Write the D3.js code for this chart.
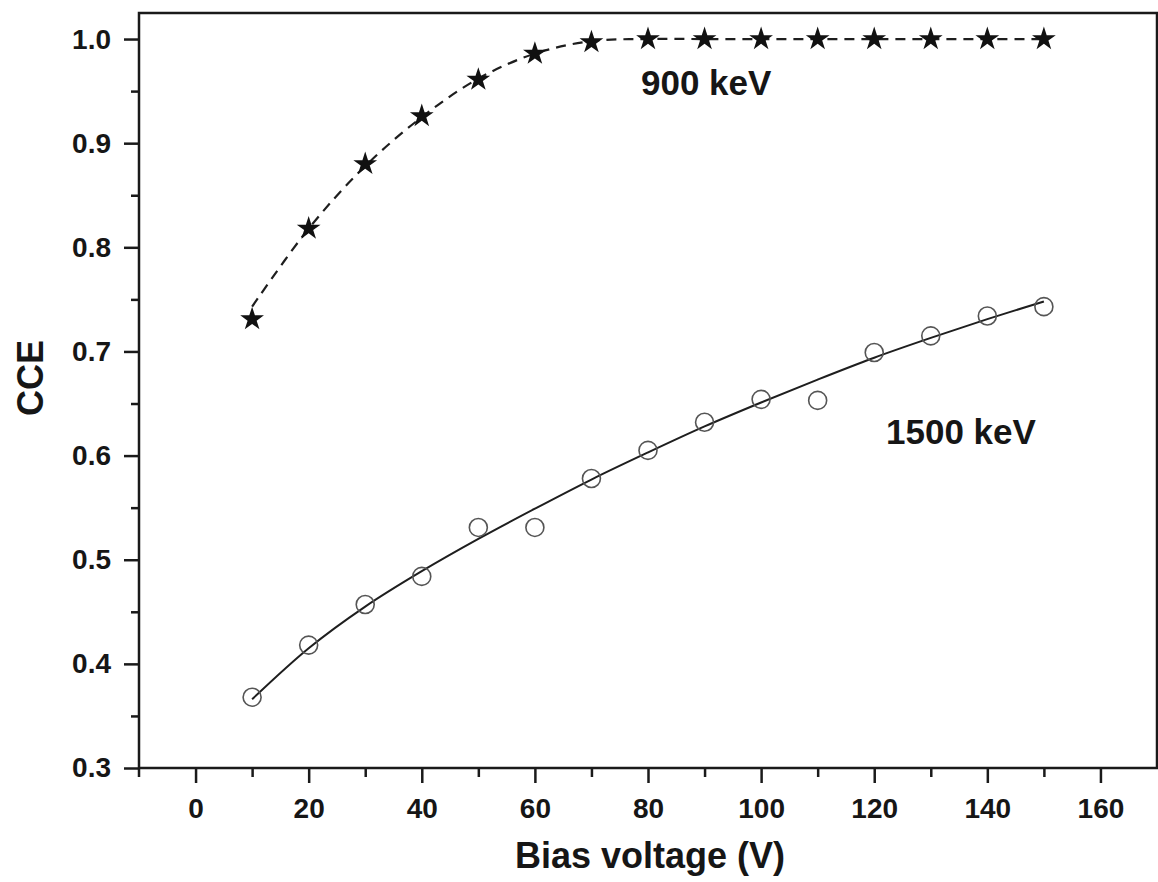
<!DOCTYPE html>
<html>
<head>
<meta charset="utf-8">
<script src="https://cdn.jsdelivr.net/npm/d3@7"></script>
<style>
  html, body { margin: 0; padding: 0; background: #fff; }
  svg { display: block; }
  text { font-family: "Liberation Sans", Arial, Helvetica, sans-serif; font-weight: bold; fill: #161616; }
</style>
</head>
<body>
<svg id="chart" width="1158" height="882"></svg>
<script>
// Bias voltage (V)
const voltage = [10, 20, 30, 40, 50, 60, 70, 80, 90, 100, 110, 120, 130, 140, 150];

// 900 keV: measured CCE and fitted curve
const cce900 = [0.731, 0.818, 0.880, 0.926, 0.961, 0.986, 0.997, 1.000, 1.000, 1.000, 1.000, 1.000, 1.000, 1.000, 1.000];
const fit900 = [0.743, 0.818, 0.878, 0.925, 0.962, 0.986, 0.998, 1.000, 1.000, 1.000, 1.000, 1.000, 1.000, 1.000, 1.000];

// 1500 keV: measured CCE and fitted curve
const cce1500 = [0.368, 0.418, 0.457, 0.484, 0.531, 0.531, 0.578, 0.605, 0.632, 0.654, 0.653, 0.699, 0.715, 0.734, 0.743];
const fit1500 = [0.366, 0.415, 0.455, 0.489, 0.520, 0.549, 0.577, 0.603, 0.628, 0.651, 0.673, 0.694, 0.713, 0.731, 0.748];

const xTicks = [0, 20, 40, 60, 80, 100, 120, 140, 160];
const xMinorTicks = [10, 30, 50, 70, 90, 110, 130, 150];
const yTicks = [0.3, 0.4, 0.5, 0.6, 0.7, 0.8, 0.9, 1.0];
const yMinorTicks = [0.35, 0.45, 0.55, 0.65, 0.75, 0.85, 0.95];

const svg = d3.select("#chart");
const plot = { left: 139, right: 1157, top: 13, bottom: 768 };

const x = d3.scaleLinear().domain([-10, 170]).range([plot.left, plot.right]);
const y = d3.scaleLinear().domain([0.3, 1.025]).range([plot.bottom, plot.top]);

// Minor ticks
svg.append("g")
  .attr("transform", `translate(0,${plot.bottom})`)
  .call(d3.axisBottom(x).tickValues(xMinorTicks).tickSize(9).tickSizeOuter(0).tickFormat(""))
  .call(g => g.select(".domain").remove())
  .call(g => g.selectAll("line").attr("stroke", "#1a1a1a").attr("stroke-width", 2.5));

svg.append("g")
  .attr("transform", `translate(${plot.left},0)`)
  .call(d3.axisLeft(y).tickValues(yMinorTicks).tickSize(8).tickSizeOuter(0).tickFormat(""))
  .call(g => g.select(".domain").remove())
  .call(g => g.selectAll("line").attr("stroke", "#1a1a1a").attr("stroke-width", 2.5));

// Major ticks and labels
svg.append("g")
  .attr("transform", `translate(0,${plot.bottom})`)
  .call(d3.axisBottom(x).tickValues(xTicks).tickSize(15).tickSizeOuter(0).tickPadding(15).tickFormat(d3.format("d")))
  .call(g => g.select(".domain").remove())
  .call(g => g.selectAll("line").attr("stroke", "#1a1a1a").attr("stroke-width", 2.5))
  .call(g => g.selectAll("text").attr("font-size", 28).attr("fill", "#161616")
    .attr("font-family", "Liberation Sans, Arial, sans-serif").attr("font-weight", "bold"));

svg.append("g")
  .attr("transform", `translate(${plot.left},0)`)
  .call(d3.axisLeft(y).tickValues(yTicks).tickSize(15).tickSizeOuter(0).tickPadding(13).tickFormat(d3.format(".1f")))
  .call(g => g.select(".domain").remove())
  .call(g => g.selectAll("line").attr("stroke", "#1a1a1a").attr("stroke-width", 2.5))
  .call(g => g.selectAll("text").attr("font-size", 28).attr("fill", "#161616")
    .attr("font-family", "Liberation Sans, Arial, sans-serif").attr("font-weight", "bold"));

// Frame
svg.append("rect")
  .attr("x", plot.left).attr("y", plot.top)
  .attr("width", plot.right - plot.left).attr("height", plot.bottom - plot.top)
  .attr("fill", "none").attr("stroke", "#1a1a1a").attr("stroke-width", 2.5);
// left axis runs a little below the bottom axis
svg.append("line")
  .attr("x1", plot.left).attr("x2", plot.left)
  .attr("y1", plot.bottom).attr("y2", plot.bottom + 9)
  .attr("stroke", "#1a1a1a").attr("stroke-width", 2.5);

const line = d3.line().curve(d3.curveCatmullRom.alpha(0.5));

// 1500 keV fitted curve (solid)
svg.append("path")
  .attr("d", line(voltage.map((v, i) => [x(v), y(fit1500[i])])))
  .attr("fill", "none").attr("stroke", "#1e1e1e").attr("stroke-width", 2);

// 1500 keV points (open circles)
svg.append("g").selectAll("circle")
  .data(voltage.map((v, i) => ({ v, c: cce1500[i] })))
  .join("circle")
  .attr("cx", d => x(d.v)).attr("cy", d => y(d.c)).attr("r", 9)
  .attr("fill", "none").attr("stroke", "#555").attr("stroke-width", 1.6);

// 900 keV fitted curve (dashed)
svg.append("path")
  .attr("d", line(voltage.map((v, i) => [x(v), y(fit900[i])])))
  .attr("fill", "none").attr("stroke", "#1e1e1e").attr("stroke-width", 2.2)
  .attr("stroke-dasharray", "10,7");

// 900 keV points (filled stars)
svg.append("g").selectAll("path")
  .data(voltage.map((v, i) => ({ v, c: cce900[i] })))
  .join("path")
  .attr("transform", d => `translate(${x(d.v)},${y(d.c)})`)
  .attr("d", d3.symbol(d3.symbolStar, 175))
  .attr("fill", "#111");

// Series labels
svg.append("text").attr("x", 641).attr("y", 95).attr("font-size", 35).text("900 keV");
svg.append("text").attr("x", 886).attr("y", 444).attr("font-size", 35).text("1500 keV");

// Axis titles
svg.append("text")
  .attr("x", (plot.left + plot.right) / 2 + 2).attr("y", 868)
  .attr("text-anchor", "middle").attr("font-size", 36)
  .text("Bias voltage (V)");

svg.append("text")
  .attr("transform", `translate(43,378) rotate(-90)`)
  .attr("text-anchor", "middle").attr("font-size", 36)
  .text("CCE");
</script>
</body>
</html>
